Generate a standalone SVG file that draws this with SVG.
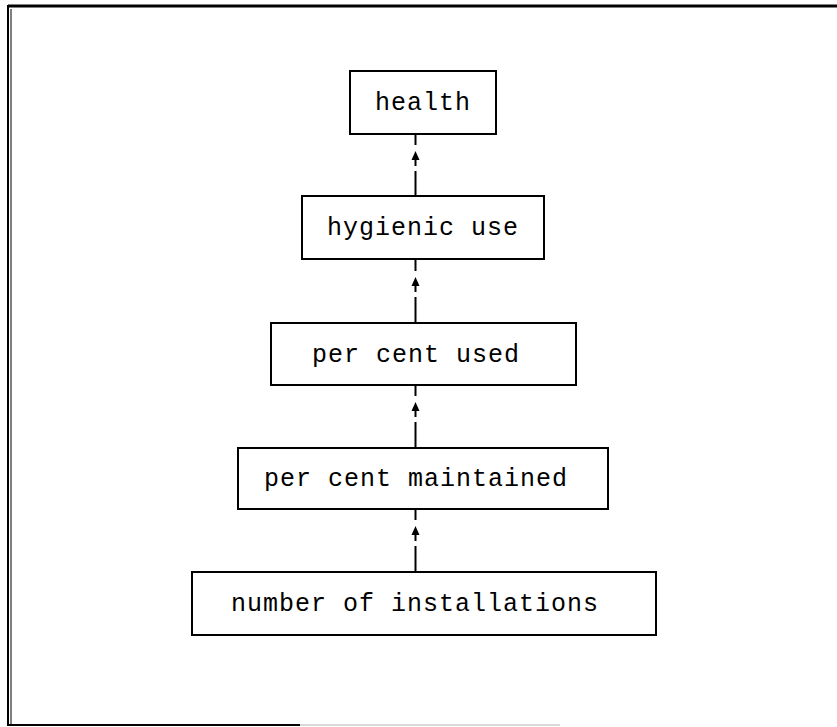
<svg xmlns="http://www.w3.org/2000/svg" width="837" height="727" viewBox="0 0 837 727">
<defs>
<style>
.box{fill:#fff;stroke:#000;stroke-width:2}
.lbl{font-family:"Liberation Mono","DejaVu Sans Mono",monospace;font-size:25px;letter-spacing:1px;fill:#000;text-anchor:middle}
.conn{stroke:#000;stroke-width:2;fill:none}
.head{fill:#000}
.frame{stroke:#000;fill:none}
</style>
</defs>
<rect width="837" height="727" fill="#fff"/>
<g id="frame">
<line class="frame" x1="8" y1="6" x2="837" y2="6" stroke-width="3"/>
<line class="frame" x1="8" y1="5" x2="8" y2="726" stroke-width="2"/>
<line class="frame" x1="11" y1="9" x2="11" y2="724" stroke-width="1"/>
<line class="frame" x1="8" y1="725" x2="300" y2="725" stroke-width="2"/>
<line class="frame" x1="300" y1="725" x2="560" y2="725" stroke-width="1" stroke-opacity="0.3"/>
</g>
<g id="connectors">
<line class="conn" x1="415.5" y1="134" x2="415.5" y2="145"/>
<line class="conn" x1="415.5" y1="156" x2="415.5" y2="166"/>
<path class="head" d="M411.5,160 L415.5,151 L419.5,160 Z"/>
<line class="conn" x1="415.5" y1="171" x2="415.5" y2="196"/>
<line class="conn" x1="415.5" y1="259" x2="415.5" y2="271"/>
<line class="conn" x1="415.5" y1="282" x2="415.5" y2="292"/>
<path class="head" d="M411.5,286 L415.5,277 L419.5,286 Z"/>
<line class="conn" x1="415.5" y1="297" x2="415.5" y2="323"/>
<line class="conn" x1="415.5" y1="385" x2="415.5" y2="396"/>
<line class="conn" x1="415.5" y1="407" x2="415.5" y2="417"/>
<path class="head" d="M411.5,411 L415.5,402 L419.5,411 Z"/>
<line class="conn" x1="415.5" y1="422" x2="415.5" y2="448"/>
<line class="conn" x1="415.5" y1="509" x2="415.5" y2="520"/>
<line class="conn" x1="415.5" y1="531" x2="415.5" y2="541"/>
<path class="head" d="M411.5,535 L415.5,526 L419.5,535 Z"/>
<line class="conn" x1="415.5" y1="546" x2="415.5" y2="572"/>
</g>
<g id="health">
<rect class="box" x="350" y="71" width="146" height="63"/>
<text class="lbl" x="423" y="110">health</text>
</g>
<g id="hygienic-use">
<rect class="box" x="302" y="196" width="242" height="63"/>
<text class="lbl" x="423" y="235">hygienic use</text>
</g>
<g id="per-cent-used">
<rect class="box" x="271" y="323" width="305" height="62"/>
<text class="lbl" x="416" y="362">per cent used</text>
</g>
<g id="per-cent-maintained">
<rect class="box" x="238" y="448" width="370" height="61"/>
<text class="lbl" x="416" y="486">per cent maintained</text>
</g>
<g id="number-of-installations">
<rect class="box" x="192" y="572" width="464" height="63"/>
<text class="lbl" x="415" y="611">number of installations</text>
</g>
</svg>
